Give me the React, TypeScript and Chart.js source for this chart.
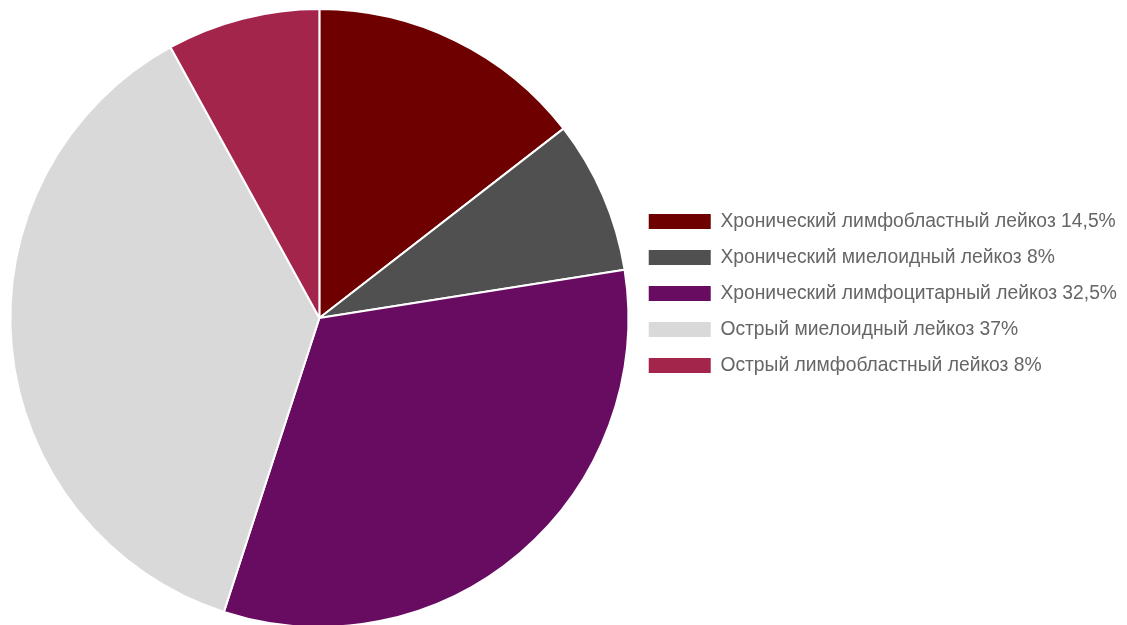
import React, { useEffect, useRef } from "react";
import { Chart, registerables } from "chart.js";

Chart.register(...registerables);

const labels = [
  "Хронический лимфобластный лейкоз 14,5%",
  "Хронический миелоидный лейкоз 8%",
  "Хронический лимфоцитарный лейкоз 32,5%",
  "Острый миелоидный лейкоз 37%",
  "Острый лимфобластный лейкоз 8%",
];
const values = [14.5, 8, 32.5, 37, 8];
const colors = ["#6E0000", "#505050", "#680C62", "#D9D9D9", "#A4254C"];

export default function App() {
  const ref = useRef<HTMLCanvasElement | null>(null);
  useEffect(() => {
    if (!ref.current) return;
    const chart = new Chart(ref.current, {
      type: "pie",
      data: {
        labels,
        datasets: [
          {
            data: values,
            backgroundColor: colors,
            borderColor: "#ffffff",
            borderWidth: 2,
          },
        ],
      },
      options: {
        animation: false,
        responsive: true,
        maintainAspectRatio: false,
        layout: { padding: { left: 6.7, top: 8, bottom: 12, right: 0 } },
        plugins: {
          tooltip: { enabled: false },
          legend: {
            position: "right",
            align: "start",
            title: {
              display: true,
              text: "",
              font: { size: 10, lineHeight: 1 },
              padding: { top: 177.15, bottom: 0 },
            },
            labels: {
              boxWidth: 62,
              boxHeight: 15,
              padding: 16.7,
              color: "#666666",
              font: { family: "'Liberation Sans', Arial, sans-serif", size: 19.3 },
              generateLabels: (c: any) =>
                (Chart as any).overrides.pie.plugins.legend.labels
                  .generateLabels(c)
                  .map((l: any) => ({ ...l, lineWidth: 0 })),
            },
          },
        },
      },
    });
    return () => chart.destroy();
  }, []);
  return (
    <div style={{ position: "fixed", left: 0, top: 0, right: 0, bottom: 0, overflow: "hidden", background: "#fff" }}>
      <div style={{ position: "relative", width: 1127, height: 640 }}>
        <canvas ref={ref} />
      </div>
    </div>
  );
}
